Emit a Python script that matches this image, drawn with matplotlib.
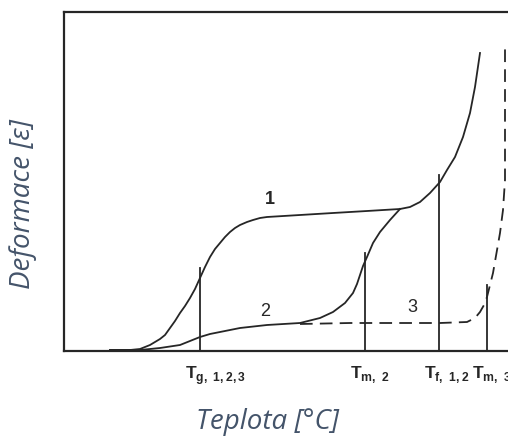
import matplotlib
matplotlib.use("Agg")
import matplotlib.pyplot as plt

plt.rcParams["mathtext.fontset"] = "custom"
plt.rcParams["mathtext.rm"] = "Liberation Sans"
plt.rcParams["mathtext.bf"] = "Liberation Sans:bold"

# deformation vs. temperature curves (arbitrary units)
curve1_T = [46, 66, 76, 86, 96, 101, 106, 111, 116, 121, 126, 131, 136, 141, 146,
            151, 156, 161, 166, 171, 176, 183, 189, 196, 203, 236, 269, 303, 336,
            346, 356, 366, 376, 383, 391, 399, 406, 411, 416]
curve1_eps = [1, 1, 2, 6, 12, 16, 23, 30, 38, 45, 53, 62, 73, 84, 94,
              102, 108, 114, 119, 123, 126, 129, 131, 133, 134, 136, 138, 140, 142,
              144, 149, 158, 169, 181, 194, 214, 238, 264, 298]

curve2_T = [46, 76, 96, 116, 126, 136, 146, 156, 176, 203, 236, 256, 269, 281,
            285, 289, 293, 296, 299, 303, 309, 316, 326, 336]
curve2_eps = [1, 1, 3, 6, 10, 14, 17, 19, 23, 26, 28, 33, 39, 48,
              53, 58, 67, 76, 85, 94, 108, 119, 131, 142]

curve3_T = [236, 286, 336, 376, 403, 411, 416, 420, 423, 429, 436, 439, 441, 441]
curve3_eps = [27, 28, 28, 28, 29, 33, 39, 46, 54, 78, 118, 141, 171, 308]

# characteristic temperatures and the height of their marker lines
trans_T = [136, 301, 375, 423]
trans_top = [83, 98, 176, 66]
trans_labels = [r"$\mathbf{T}_{\mathbf{g,\ 1,2,3}}$", r"$\mathbf{T}_{\mathbf{m,\ 2}}$",
                r"$\mathbf{T}_{\mathbf{f,\ 1,2}}$", r"$\mathbf{T}_{\mathbf{m,\ 3}}$"]

curve_names = ["1", "2", "3"]
name_T = [206, 201, 348]
name_eps = [151, 39, 44]

ink = "#262626"
label_color = "#44546A"

fig = plt.figure(figsize=(5.08, 4.38), dpi=100)
ax = fig.add_axes([64 / 508, 87 / 438, 460 / 508, 339 / 438])
ax.set_xlim(0, 460)
ax.set_ylim(0, 339)

ax.plot(curve1_T, curve1_eps, color=ink, lw=1.3)
ax.plot(curve2_T, curve2_eps, color=ink, lw=1.3)
ax.plot(curve3_T, curve3_eps, color=ink, lw=1.3, dashes=(7, 4))

for t, top, lab in zip(trans_T, trans_top, trans_labels):
    ax.plot([t, t], [0, top], color=ink, lw=1.3)
    ax.annotate(lab, xy=(t, 0), xytext=(-15, -13), textcoords="offset pixels",
                ha="left", va="top", fontsize=12.5, color=ink)

for name, t, e in zip(curve_names, name_T, name_eps):
    ax.text(t, e, name, fontsize=13, color=ink, ha="center", va="center",
            family="Liberation Sans", fontweight="bold" if name == "1" else "normal")

for side in ["top", "left", "bottom"]:
    ax.spines[side].set_linewidth(1.6)
    ax.spines[side].set_color(ink)
ax.spines["right"].set_visible(False)
ax.set_xticks([])
ax.set_yticks([])

fig.text(268 / 508, 1 - 422 / 438, "Teplota [°C]", family="Open Sans", style="italic",
         fontsize=20, color=label_color, ha="center", va="center")
fig.text(23 / 508, 1 - 204 / 438, "Deformace [ε]", family="Open Sans", style="italic",
         fontsize=20, color=label_color, ha="center", va="center", rotation=90)

fig.savefig("out.png", dpi=100)
